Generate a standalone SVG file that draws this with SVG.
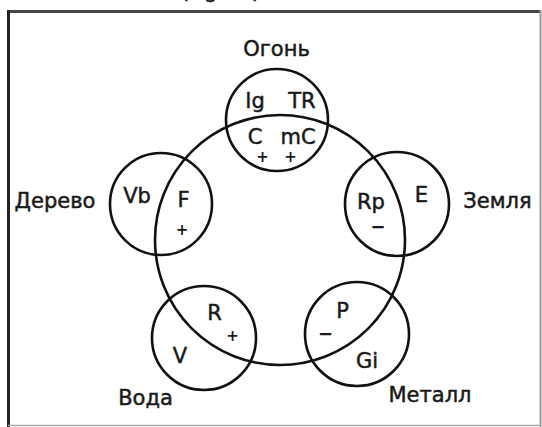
<svg xmlns="http://www.w3.org/2000/svg" width="542" height="427" viewBox="0 0 542 427">
<style>
.c{fill:none;stroke:#111;stroke-width:2.6}
.t{font-family:"DejaVu Sans","Liberation Sans",sans-serif;font-size:21px;fill:#1a1a1a;stroke:#1a1a1a;stroke-width:0.5;text-anchor:middle}
.s{font-family:"DejaVu Sans","Liberation Sans",sans-serif;font-weight:bold;fill:#1a1a1a;text-anchor:middle}
</style>
<rect width="542" height="427" fill="#fff"/>
<g id="frame">
<line x1="7" y1="11.5" x2="541" y2="11.5" stroke="#444" stroke-width="3"/>
<line x1="8.5" y1="10" x2="8.5" y2="427" stroke="#222" stroke-width="3"/>
<line x1="540.5" y1="10" x2="540.5" y2="427" stroke="#999" stroke-width="2"/>
<line x1="8" y1="425.5" x2="541" y2="425.5" stroke="#aaa" stroke-width="1.5"/>
</g>
<text class="t" x="181" y="-2" style="text-anchor:start">(<tspan x="204">g</tspan><tspan x="252">)</tspan></text>
<g id="cycle"><circle class="c" cx="280" cy="240" r="125"/></g>
<g id="fire">
<circle class="c" cx="277" cy="120" r="51"/>
<text class="t" x="276.5" y="56">Огонь</text>
<text class="t" x="255" y="108">Ig</text>
<text class="t" x="302" y="108">TR</text>
<text class="t" x="255" y="144">C</text>
<text class="t" x="298" y="144">mC</text>
<text class="s" x="262.5" y="162" font-size="15">+</text>
<text class="s" x="290.5" y="162" font-size="15">+</text>
</g>
<g id="wood">
<circle class="c" cx="161" cy="204" r="51"/>
<text class="t" x="55" y="208">Дерево</text>
<text class="t" x="137" y="203">Vb</text>
<text class="t" x="183.5" y="207">F</text>
<text class="s" x="182" y="234.5" font-size="15">+</text>
</g>
<g id="earth">
<circle class="c" cx="397" cy="204" r="52"/>
<text class="t" x="497.5" y="208">Земля</text>
<text class="t" x="371" y="209">Rp</text>
<text class="t" x="421.5" y="202">E</text>
<text class="s" x="378" y="233" font-size="18">−</text>
</g>
<g id="water">
<circle class="c" cx="204" cy="338" r="52"/>
<text class="t" x="145.5" y="405">Вода</text>
<text class="t" x="214.5" y="320">R</text>
<text class="t" x="180" y="363">V</text>
<text class="s" x="232.5" y="341" font-size="15">+</text>
</g>
<g id="metal">
<circle class="c" cx="357" cy="334" r="52"/>
<text class="t" x="430" y="402">Металл</text>
<text class="t" x="342.5" y="318">P</text>
<text class="t" x="367" y="368">Gi</text>
<text class="s" x="325.5" y="340" font-size="18">−</text>
</g>
</svg>
